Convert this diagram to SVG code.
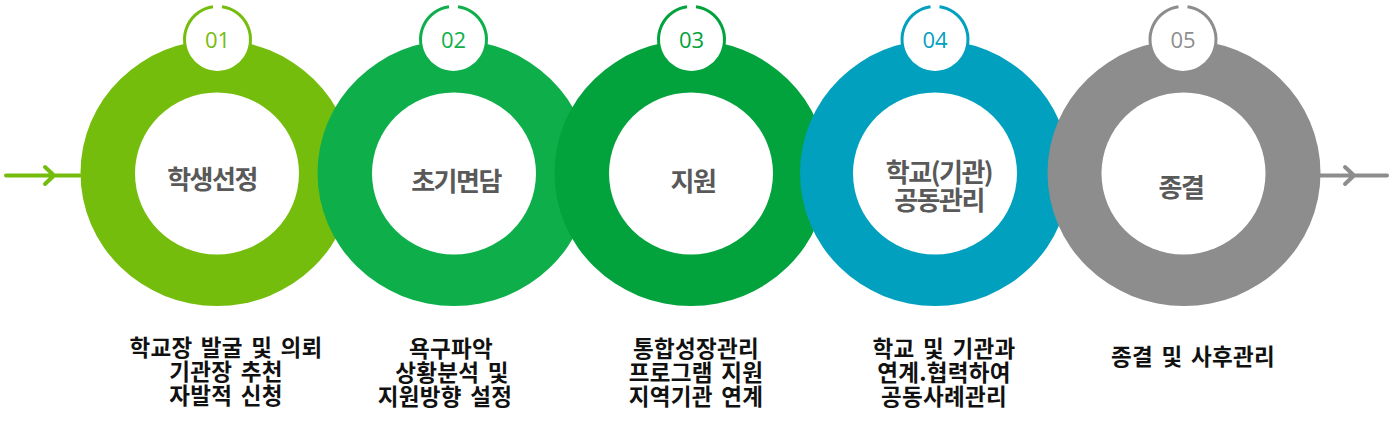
<svg xmlns="http://www.w3.org/2000/svg" width="1394" height="435" viewBox="0 0 1394 435">
<style>
.white{fill:#fff}
.num{font-family:"Open Sans","Noto Sans",sans-serif;font-size:22px;text-anchor:middle}
.lbl{font-family:"Noto Sans CJK KR",sans-serif;font-size:26px;font-weight:bold;fill:#595959;text-anchor:middle;letter-spacing:-1.5px}
.desc{font-family:"Noto Sans CJK KR",sans-serif;font-size:22.5px;font-weight:bold;fill:#111;text-anchor:middle;letter-spacing:0.3px;word-spacing:3px}
.conn{fill:none;stroke-width:4;stroke-linecap:round;stroke-linejoin:round}
.ring{fill:none;stroke-width:3}
</style>
<g id="connectors">
  <path class="conn" stroke="#75BD0C" d="M6,175.5 H80 M45,167 L54,175.5 L45,184"/>
  <path class="conn" stroke="#8D8D8D" d="M1305,175.5 H1387 M1345,167 L1354,175.5 L1345,184"/>
</g>
<g id="step1">
  <ellipse cx="217" cy="173" rx="136.5" ry="133" fill="#75BD0C"/>
  <ellipse class="white" cx="217" cy="173.5" rx="82" ry="81"/>
  <circle class="white" cx="217.5" cy="39.5" r="33"/>
  <path class="ring" stroke="#75BD0C" d="M222,6.8 A33,33 0 1 1 213,6.8"/>
  <text class="num" x="217.5" y="48" fill="#75BD0C">01</text>
  <text class="lbl" x="212" y="189">학생선정</text>
  <text class="desc"><tspan x="226" y="356">학교장 발굴 및 의뢰</tspan><tspan x="226" y="380">기관장 추천</tspan><tspan x="226" y="404">자발적 신청</tspan></text>
</g>
<g id="step2">
  <ellipse cx="454" cy="173" rx="136.5" ry="133" fill="#0EAF4B"/>
  <ellipse class="white" cx="454" cy="173.5" rx="82" ry="81"/>
  <circle class="white" cx="453.5" cy="39.5" r="33"/>
  <path class="ring" stroke="#0EAF4B" d="M458,6.8 A33,33 0 1 1 449,6.8"/>
  <text class="num" x="453.5" y="48" fill="#0EAF4B">02</text>
  <text class="lbl" x="456" y="191">초기면담</text>
  <text class="desc"><tspan x="451" y="357">욕구파악</tspan><tspan x="452" y="381">상황분석 및</tspan><tspan x="445" y="405">지원방향 설정</tspan></text>
</g>
<g id="step3">
  <ellipse cx="691" cy="173" rx="136.5" ry="133" fill="#02A23C"/>
  <ellipse class="white" cx="691" cy="173.5" rx="82" ry="81"/>
  <circle class="white" cx="691.5" cy="39.5" r="33"/>
  <path class="ring" stroke="#02A23C" d="M696,6.8 A33,33 0 1 1 687,6.8"/>
  <text class="num" x="691.5" y="48" fill="#02A23C">03</text>
  <text class="lbl" x="693" y="191">지원</text>
  <text class="desc"><tspan x="696" y="357">통합성장관리</tspan><tspan x="696" y="381">프로그램 지원</tspan><tspan x="696" y="405">지역기관 연계</tspan></text>
</g>
<g id="step4">
  <ellipse cx="935" cy="173" rx="135" ry="133" fill="#01A0BE"/>
  <ellipse class="white" cx="935" cy="173.5" rx="82" ry="81"/>
  <circle class="white" cx="935" cy="39.5" r="33"/>
  <path class="ring" stroke="#01A0BE" d="M939.5,6.8 A33,33 0 1 1 930.5,6.8"/>
  <text class="num" x="935" y="48" fill="#01A0BE">04</text>
  <text class="lbl"><tspan x="939" y="182">학교(기관)</tspan><tspan x="939" y="210">공동관리</tspan></text>
  <text class="desc"><tspan x="944" y="357">학교 및 기관과</tspan><tspan x="944" y="381">연계.협력하여</tspan><tspan x="944" y="405">공동사례관리</tspan></text>
</g>
<g id="step5">
  <ellipse cx="1184" cy="173" rx="136.5" ry="133" fill="#8D8D8D"/>
  <ellipse class="white" cx="1183.5" cy="173.5" rx="82" ry="81"/>
  <circle class="white" cx="1183" cy="39.5" r="33"/>
  <path class="ring" stroke="#8D8D8D" d="M1187.5,6.8 A33,33 0 1 1 1178.5,6.8"/>
  <text class="num" x="1183" y="48" fill="#8D8D8D">05</text>
  <text class="lbl" x="1181" y="197">종결</text>
  <text class="desc" x="1193" y="365">종결 및 사후관리</text>
</g>
</svg>
